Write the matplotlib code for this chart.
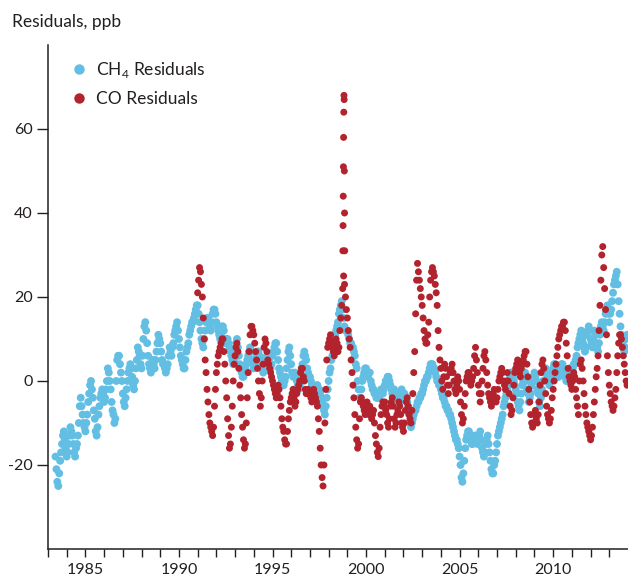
import numpy as np
import matplotlib
matplotlib.use("Agg")
import matplotlib.pyplot as plt
from matplotlib.lines import Line2D

plt.rcParams['font.family'] = ['Lato', 'DejaVu Sans']
plt.rcParams['mathtext.fontset'] = 'custom'
plt.rcParams['mathtext.rm'] = 'Lato'
plt.rcParams['axes.unicode_minus'] = False

# residuals, one value every 0.05 yr
ch4_start = 1983.40
ch4_values = [
    -18, -21, -24, -25, -22, -19, -17, -15, -13, -12, -14, -16,  # 1983.40-1983.95
    -18, -17, -15, -13, -11, -12, -13, -15, -17, -18, -16, -15, -13, -10, -6, -4, -6, -8, -10, -11,  # 1984
    -12, -10, -8, -5, -3, -1, 0, -2, -4, -7, -9, -12, -13, -11, -8, -6, -4, -3, -2, -3,  # 1985
    -5, -4, -2, 0, 3, 2, 0, -2, -5, -7, -8, -10, -9, 0, 5, 6, 6, 4, 2, 0,  # 1986
    -3, -5, -6, -4, -2, 0, 2, 3, 4, 3, 1, -1, -2, 0, 3, 5, 8, 7, 6, 4,  # 1987
    3, 6, 10, 13, 14, 12, 9, 6, 4, 3, 2, 3, 5, 4, 3, 5, 7, 9, 11, 10,  # 1988
    9, 7, 5, 4, 4, 3, 2, 3, 4, 6, 8, 7, 6, 8, 9, 11, 12, 13, 14, 12,  # 1989
    10, 8, 6, 5, 4, 3, 3, 5, 7, 8, 9, 11, 12, 13, 14, 14, 15, 16, 17, 18,  # 1990
    18, 16, 14, 12, 10, 9, 8, 10, 12, 14, 15, 15, 14, 13, 12, 14, 16, 17, 17, 16,  # 1991
    14, 13, 12, 11, 10, 11, 13, 13, 12, 10, 9, 10, 10, 9, 8, 7, 6, 5, 4, 5,  # 1992
    7, 9, 10, 8, 6, 4, 3, 2, 1, 1, 2, 3, 4, 5, 6, 7, 8, 7, 5, 4,  # 1993
    3, 4, 5, 6, 7, 7, 6, 5, 4, 3, 2, 3, 4, 5, 6, 6, 5, 4, 3, 4,  # 1994
    6, 7, 8, 9, 9, 7, 5, 3, 2, 1, 0, -1, -1, 0, 1, 3, 5, 7, 8, 6,  # 1995
    4, 2, 1, 1, 2, 1, 0, -1, -2, -1, 1, 3, 4, 6, 7, 6, 5, 3, 2, 1,  # 1996
    1, 0, -1, -2, -3, -3, -2, -1, -1, -2, -2, -3, -4, -5, -6, -7, -8, -6, -4, -2,  # 1997
    0, 2, 3, 5, 6, 8, 9, 11, 12, 13, 14, 16, 17, 18, 19, 17, 15, 13, 12, 12,  # 1998
    12, 11, 10, 9, 9, 8, 8, 7, 6, 4, 3, 0, -2, -4, -4, -2, 0, 1, 2, 3,  # 1999
    3, 2, 1, 2, 2, 0, -1, -2, -2, -3, -3, -4, -4, -4, -4, -3, -2, -2, -3, -2,  # 2000
    -1, 0, 0, 1, 1, 0, -1, -2, -3, -3, -2, -3, -4, -4, -3, -3, -5, -4, -2, -3,  # 2001
    -3, -3, -4, -4, -5, -6, -8, -10, -11, -10, -9, -8, -7, -7, -6, -5, -5, -4, -4, -3,  # 2002
    -3, -2, -1, 0, 0, 1, 1, 2, 3, 4, 4, 4, 3, 3, 2, 1, 0, 0, -1, -1,  # 2003
    -2, -3, -4, -4, -5, -6, -6, -7, -7, -8, -8, -9, -10, -11, -12, -13, -14, -14, -15, -16,  # 2004
    -18, -20, -23, -24, -22, -19, -16, -14, -13, -12, -12, -13, -14, -15, -15, -14, -13, -13, -14, -15,  # 2005
    -14, -13, -12, -14, -16, -17, -18, -17, -15, -14, -13, -15, -17, -19, -21, -22, -22, -20, -19, -17,  # 2006
    -15, -13, -12, -11, -10, -9, -8, -6, -5, -4, -3, -2, -1, 0, 1, 2, 2, 1, 0, -1,  # 2007
    -2, -3, -5, -6, -7, -5, -3, -1, 0, 1, 2, 0, -2, -3, -5, -4, -3, -1, 0, 1,  # 2008
    2, 1, 0, -2, -3, -5, -6, -4, -2, 0, 2, 3, 3, 2, 1, 0, -1, 0, 1, 2,  # 2009
    3, 4, 4, 3, 2, 1, 1, 2, 3, 4, 4, 3, 2, 1, 0, 0, 1, 2, 3, 3,  # 2010
    2, 3, 4, 4, 5, 6, 8, 9, 10, 11, 12, 10, 9, 8, 7, 8, 11, 12, 13, 12,  # 2011
    10, 9, 8, 10, 12, 11, 9, 8, 7, 9, 11, 13, 14, 13, 12, 14, 16, 17, 18, 16,  # 2012
    14, 16, 17, 19, 21, 23, 24, 25, 26, 23, 19, 16, 13, 11, 9, 8, 7, 8, 10, 11,  # 2013
]

co_start = 1991.00
co_values = [
    21, 24, 27, 26, 23, 20, 15, 10, 5, 2, -2, -5, -8, -10, -11, -12, -13, -11, -6, -2,  # 1991
    2, 4, 6, 7, 8, 9, 10, 10, 7, 4, 0, -4, -9, -13, -16, -15, -11, -6, 0, 4,  # 1992
    6, 8, 9, 7, 3, -1, -4, -8, -11, -14, -16, -15, -10, -4, 2, 7, 11, 13, 13, 12,  # 1993
    11, 9, 7, 5, 3, 0, -3, -6, -4, 0, 4, 8, 10, 9, 7, 5, 4, 3, 2, 1,  # 1994
    0, -1, -2, -3, -4, -3, -1, -2, -4, -6, -9, -11, -12, -14, -15, -15, -12, -9, -7, -5,  # 1995
    -4, -3, -2, -4, -6, -5, -3, -2, -1, 0, 2, 3, 3, 1, 0, -2, -3, -3, -2, -3,  # 1996
    -3, -4, -5, -4, -2, -3, -4, -5, -6, -9, -12, -16, -20, -23, -25, -20, -10, -2, 5, 8,  # 1997
    9, 10, 11, 9, 8, 7, 6, 8, 10, 9, 7, 8, 12, 15, 18, 22, 25, 23, 20, 17,  # 1998
    15, 12, 10, 8, 5, 2, -1, -4, -8, -11, -14, -16, -15, -9, -5, -4, -5, -6, -7, -8,  # 1999
    -6, -5, -7, -8, -6, -8, -9, -8, -7, -10, -13, -15, -17, -18, -16, -11, -8, -6, -5, -6,  # 2000
    -5, -7, -8, -10, -11, -9, -6, -5, -4, -6, -9, -11, -10, -8, -7, -5, -6, -8, -10, -11,  # 2001
    -12, -10, -7, -5, -4, -6, -8, -9, -10, -7, -3, 2, 7, 16, 24, 28, 26, 24, 22, 20,  # 2002
    18, 15, 12, 10, 9, 9, 11, 14, 20, 24, 26, 27, 26, 25, 23, 21, 18, 12, 8, 5,  # 2003
    3, 0, -2, 1, 4, 3, 1, -1, -3, -1, 2, 3, 4, 2, 0, -2, -3, -1, 1, 0,  # 2004
    -2, -5, -8, -10, -9, -6, -3, 0, 1, 2, 2, 0, -1, 0, 1, 3, 6, 8, 5, 2,  # 2005
    -1, -3, -5, -3, 0, 3, 6, 7, 5, 2, -1, -3, -4, -5, -6, -5, -3, -2, -4, -5,  # 2006
    -4, -2, 0, 1, 2, 3, 2, 0, -1, -2, 0, 2, 0, -3, -6, -8, -7, -4, -1, 2,  # 2007
    3, 4, 5, 4, 2, 1, 3, 4, 5, 6, 7, 7, 4, 1, -2, -5, -8, -10, -11, -10,  # 2008
    -8, -7, -9, -10, -8, -5, -1, 2, 4, 5, 3, 0, -3, -6, -8, -9, -10, -9, -7, -4,  # 2009
    -2, 0, 2, 4, 6, 8, 10, 11, 12, 13, 13, 14, 14, 12, 9, 6, 3, 1, 0, -1,  # 2010
    -2, 0, 2, 1, -2, -4, -6, -8, 0, 4, 5, 3, 0, -3, -6, -8, -10, -11, -12, -13,  # 2011
    -14, -13, -11, -8, -5, -2, 1, 3, 6, 12, 18, 24, 30, 32, 27, 22, 17, 11, 6, 2,  # 2012
    -1, -3, -5, -6, -7, -6, -4, -2, 2, 6, 9, 11, 11, 10, 8, 6, 4, 2, 0, -1,  # 2013
]

# late-1998 CO spike (weekly points)
co_spike_years = [1998.76, 1998.77, 1998.78, 1998.79, 1998.80, 1998.81,
                  1998.82, 1998.83, 1998.84, 1998.85, 1998.86]
co_spike_values = [31, 37, 44, 51, 58, 64, 68, 67, 50, 40, 31]

year_ticks = list(range(1983, 2014))
year_labels = [str(y) if y % 5 == 0 else '' for y in year_ticks]
y_ticks = [-20, 0, 20, 40, 60]

ch4_color = '#62BEE2'
co_color = '#B2232D'
dark = '#231F20'

ch4_x = ch4_start + 0.05 * np.arange(len(ch4_values))
co_x = co_start + 0.05 * np.arange(len(co_values))

fig = plt.figure(figsize=(6.28, 5.76), dpi=100)
ax = fig.add_axes([0.0764, 0.0469, 0.9236, 0.875])

ax.scatter(ch4_x, ch4_values, s=32, color=ch4_color, edgecolors='none', zorder=2)
ax.scatter(co_x, co_values, s=25, color=co_color, edgecolors='none', zorder=3)
ax.scatter(co_spike_years, co_spike_values, s=25, color=co_color, edgecolors='none', zorder=3)

ax.set_xlim(1983, 2014)
ax.set_ylim(-40, 80)
ax.set_xticks(year_ticks)
ax.set_xticklabels(year_labels)
ax.set_yticks(y_ticks)

for s in ['top', 'right']:
    ax.spines[s].set_visible(False)
for s in ['left', 'bottom']:
    ax.spines[s].set_color(dark)
    ax.spines[s].set_linewidth(1.1)
ax.tick_params(axis='x', direction='out', length=6, width=1, color=dark,
               labelsize=11.5, labelcolor=dark, pad=4)
ax.tick_params(axis='y', direction='out', length=8, width=1, color=dark,
               labelsize=11.5, labelcolor=dark, pad=3)

fig.text(12 / 628, 1 - 22 / 576, 'Residuals, ppb', fontsize=12.5, color=dark,
         ha='left', va='center')

handles = [
    Line2D([], [], marker='o', linestyle='none', markersize=7.5,
           markerfacecolor=ch4_color, markeredgecolor='none'),
    Line2D([], [], marker='o', linestyle='none', markersize=7.5,
           markerfacecolor=co_color, markeredgecolor='none'),
]
ax.legend(handles, [r'CH$_\mathregular{4}$ Residuals', 'CO Residuals'],
          loc='upper left', bbox_to_anchor=(0.024, 0.988), frameon=False,
          fontsize=12.5, handlelength=1.0, handletextpad=0.45,
          labelspacing=0.65, borderpad=0, labelcolor=dark)

fig.savefig('out.png', dpi=100)
